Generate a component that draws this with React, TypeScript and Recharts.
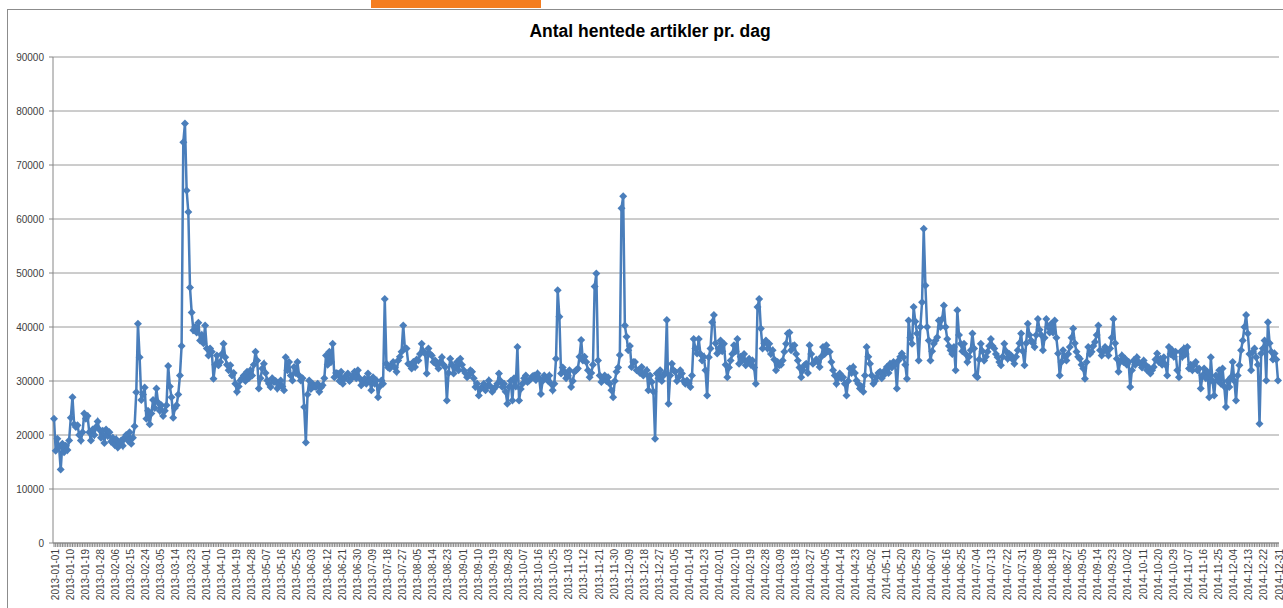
import { CartesianGrid, Line, LineChart, XAxis, YAxis } from "recharts";

// daily counts, 2013-01-01 .. 2014-12-31 per quarter
const q1_2013 = [
  23000, 17100, 19300, 17800, 13600, 18400, 16800, 18000, 17200, 19000,
  23200, 27000, 22000, 21500, 21800, 20000, 19000, 20500, 24000, 23000,
  23500, 20500, 19000, 21000, 20000, 21500, 22500, 21000, 19500, 20800,
  18500, 21000, 19800, 20500, 18800, 19500, 18200, 19200, 17700, 18500,
  19000, 18000, 19500, 20000, 19000, 20500, 18400, 19500, 21600, 27900,
  40600, 34400, 26500, 27500, 28800, 23000, 24500, 22000, 24000, 26500,
  25000, 28600, 26000, 24500, 25500, 23500, 24500, 25500, 32800, 29000,
  27000, 23200, 25000, 25500, 27500, 31000, 36500, 74200, 77700, 65300,
  61300, 47300, 42700, 39400, 40000, 39000, 40800, 37500, 38500, 37000,
];

const q2_2013 = [
  40300, 36000, 34700, 36000, 35400, 30400, 33000, 34700, 32900, 33500,
  35000, 36900, 34400, 33000, 32000, 32900, 31000, 31500, 29500, 28000,
  29000, 30100, 30500, 31000, 30000, 31700, 30500, 32000, 31000, 33000,
  35400, 33800, 28600, 30500, 32300, 33200, 31500, 30100, 29500, 28900,
  30500, 29800, 30000, 28600, 29500, 30100, 29000, 28300, 34400, 32000,
  33500, 31000, 30100, 32600, 31500, 33500, 31000, 30100, 30500, 25200,
  18600, 27500, 30100, 28500, 29500, 29000, 28900, 29500, 28000, 28800,
  29200, 30500, 34700, 33000, 35400, 33500, 36900, 30700, 31500, 31400,
  30000, 31700, 29500, 30400, 31000, 31400, 30000, 30400, 31000, 31700,
  30500,
];

const q3_2013 = [
  32000, 30500, 29200, 30000, 30400, 29500, 31400, 30000, 28300, 30700,
  29500, 30100, 27000, 29000, 30100, 29500, 45200, 33200, 32500, 32300,
  33000, 33500, 32500, 31700, 33800, 34500, 35400, 40300, 36000, 36000,
  33200, 33000, 32300, 33500, 32600, 34000, 33800, 35000, 36900, 35500,
  35100, 31400, 36000, 35000, 34700, 33500, 33800, 33000, 32300, 33500,
  34400, 33000, 32600, 26400, 31500, 34100, 33000, 31400, 32500, 33500,
  32000, 34100, 33000, 32000, 31500, 30700, 31000, 32000, 31700, 30500,
  28900, 29500, 27300, 28500, 28900, 29500, 28300, 29000, 30100, 29000,
  28000, 28500, 28900, 29500, 31400, 30000, 28900, 29500, 28000, 25800,
  28900, 30000,
];

const q4_2013 = [
  26400, 30500, 29000, 36300, 26400, 28500, 29500, 30500, 31000, 29800,
  30100, 30400, 30900, 31000, 30200, 31400, 30500, 27600, 30000, 31000,
  30500, 30100, 31000, 29500, 28300, 29500, 34100, 46800, 41900, 31400,
  32500, 31700, 30500, 31000, 32000, 28900, 30000, 31700, 32000, 32300,
  34500, 37600, 33800, 34500, 33500, 32000, 30700, 31500, 33000, 47500,
  49900, 33800, 31000, 29800, 30500, 31000, 30000, 30700, 29500, 28300,
  27000, 30000, 31700, 32500, 34800, 62000, 64200, 40300, 38200, 35700,
  36500, 32600, 33500, 33500, 32000, 32000, 31500, 32600, 31000, 31400,
  32000, 28300, 31000, 29800, 28000, 19300, 31400, 30500, 32000, 30000,
  31000, 31500,
];

const q1_2014 = [
  41300, 25800, 31000, 33200, 32000, 31700, 30000, 30700, 32000, 31400,
  30000, 29500, 30100, 29500, 28900, 31000, 37800, 36000, 35100, 37800,
  35000, 33800, 34500, 32000, 27300, 34400, 36000, 40900, 42200, 37000,
  35100, 36000, 37500, 35500, 36900, 33000, 30700, 32500, 33800, 35000,
  36600, 35500, 37800, 33200, 34500, 33800, 35000, 32900, 33500, 34100,
  33000, 33800, 32500, 29500, 43700, 45200, 39700, 36000, 37000, 37500,
  36000, 36900, 35000, 35700, 34000, 32000, 33500, 32900, 33000, 33800,
  35400, 36900, 38800, 39000, 35700, 36500, 36600, 35000, 33800, 32500,
  30700, 32000, 32900, 33200, 31500, 36600, 35000, 33200, 33500, 34000,
];

const q2_2014 = [
  33500, 32600, 34500, 36300, 35000, 36600, 35500, 35400, 33500, 32000,
  31000, 29500, 30500, 31400, 30500, 30700, 29500, 27300, 30000, 32300,
  31500, 32600, 31500, 30100, 29500, 28600, 29000, 28000, 31000, 36300,
  34500, 33200, 31000, 29500, 30000, 30700, 31500, 31700, 30500, 31000,
  32000, 32600, 31500, 33200, 32500, 33500, 33000, 28600, 33800, 34500,
  35100, 34400, 33000, 30400, 41200, 38000, 36900, 43700, 41000, 38800,
  33800, 40000, 44600, 58200, 47700, 40000, 37500, 33800, 35500, 36900,
  37500, 38100, 41200, 40000, 41500, 44000, 40000, 37800, 36500, 35700,
  35000, 36300, 32000, 43100, 38500, 36900, 35500, 36900, 35000, 33500,
  34500,
];

const q3_2014 = [
  35700, 38800, 36000, 31000, 30700, 34000, 36900, 35500, 33800, 34500,
  35400, 36500, 37800, 36500, 36000, 35000, 34400, 33500, 32900, 34500,
  36900, 35500, 34100, 35000, 34700, 34000, 33200, 34500, 35700, 37000,
  38800, 35500, 32900, 37000, 40600, 38500, 37500, 37000, 36300, 38500,
  41500, 39500, 38500, 35700, 38000, 41500, 40000, 39000, 40600, 39000,
  41200, 38000, 35100, 31000, 33500, 35700, 34500, 33800, 35000, 36300,
  38000, 39700, 37000, 35400, 34500, 34100, 33000, 32300, 30400, 33500,
  36300, 35000, 35400, 36500, 37200, 38500, 40300, 35700, 34700, 35500,
  36300, 35500, 34700, 36000, 38000, 41500, 37000, 34100, 31700, 33500,
  34700, 33500,
];

const q4_2014 = [
  34100, 33000, 33500, 28900, 32000, 33800, 33000, 34400, 33500, 33200,
  32500, 33800, 33000, 32000, 32500, 31400, 32000, 32600, 34000, 35100,
  33500, 34100, 33000, 34400, 33000, 31000, 36300, 35000, 35700, 34500,
  35400, 32000, 30700, 35400, 34500, 36000, 35000, 36300, 32300, 33000,
  32000, 33000, 33500, 32000, 32300, 28600, 31000, 32300, 30500, 31700,
  27000, 34400, 30000, 27300, 31000, 30100, 32000, 29500, 32300, 29000,
  25200, 30000, 28900, 30700, 33500, 30000, 26400, 31000, 32900, 35700,
  37500, 40000, 42200, 38800, 35000, 32000, 35400, 36000, 34400, 33000,
  22100, 35100, 36000, 37500, 30100, 40900, 37000, 35400, 34000, 35100,
  34000, 30100,
];

const counts = [
  ...q1_2013, ...q2_2013, ...q3_2013, ...q4_2013,
  ...q1_2014, ...q2_2014, ...q3_2014, ...q4_2014,
];

const firstDay = Date.UTC(2013, 0, 1);
const DAY = 86400000;
const dates = counts.map((_, i) => new Date(firstDay + i * DAY).toISOString().slice(0, 10));

const yTicks = [0, 10000, 20000, 30000, 40000, 50000, 60000, 70000, 80000, 90000];
const labelEvery = 9;

const data = dates.map((date, i) => ({ date, count: counts[i] }));

const BLUE = "#4a7ebb";
const AXIS = "#868686";

function DateTick(props: any) {
  const { x, y, payload, index } = props;
  const i = payload?.index ?? index;
  if (i % labelEvery !== 0) return <g />;
  const tx = x + 4.5;
  return (
    <text
      x={tx}
      y={y}
      transform={`rotate(-90, ${tx}, ${y})`}
      textAnchor="end"
      fontSize={10}
      fill="#404040"
    >
      {payload.value}
    </text>
  );
}

function Diamond(props: any) {
  const { cx, cy, index } = props;
  if (cx == null || cy == null) return <g key={index} />;
  const r = 4;
  return (
    <path
      key={index}
      d={`M${cx},${cy - r}L${cx + r},${cy}L${cx},${cy + r}L${cx - r},${cy}Z`}
      fill={BLUE}
    />
  );
}

export default function App() {
  return (
    <div
      style={{
        position: "fixed",
        left: 0,
        top: 0,
        width: 1283,
        height: 608,
        overflow: "hidden",
        background: "#fff",
        fontFamily: "'Liberation Sans', Arial, sans-serif",
      }}
    >
      <div
        style={{
          position: "absolute",
          left: 7,
          top: 9,
          width: 1400,
          height: 700,
          borderLeft: "1px solid #8c8c8c",
          borderTop: "1px solid #8c8c8c",
        }}
      />
      <div style={{ position: "absolute", left: 371, top: 0, width: 170, height: 8, background: "#f47d20" }} />
      <div
        style={{
          position: "absolute",
          left: 650,
          top: 21,
          transform: "translateX(-50%)",
          whiteSpace: "nowrap",
          fontSize: 17.5,
          lineHeight: "20px",
          fontWeight: "bold",
          color: "#000",
        }}
      >
        Antal hentede artikler pr. dag
      </div>
      <div style={{ position: "absolute", left: 0, top: 0 }}>
        <LineChart
          width={1283}
          height={608}
          data={data}
          margin={{ top: 57, right: 4, bottom: 0, left: 8 }}
        >
          <CartesianGrid vertical={false} stroke="#9a9a9a" strokeWidth={1} />
          <XAxis
            dataKey="date"
            interval={0}
            height={65}
            tickSize={4}
            tickMargin={2}
            padding={{ left: 1, right: 1 }}
            axisLine={{ stroke: AXIS }}
            tickLine={{ stroke: AXIS }}
            tick={<DateTick />}
          />
          <YAxis
            domain={[0, 90000]}
            ticks={yTicks}
            width={45}
            tickSize={4}
            tickMargin={5}
            axisLine={{ stroke: AXIS }}
            tickLine={{ stroke: AXIS }}
            tick={{ fontSize: 10, fill: "#404040" }}
          />
          <Line
            type="linear"
            dataKey="count"
            stroke={BLUE}
            strokeWidth={2.5}
            dot={Diamond}
            activeDot={false}
            isAnimationActive={false}
          />
        </LineChart>
      </div>
    </div>
  );
}
